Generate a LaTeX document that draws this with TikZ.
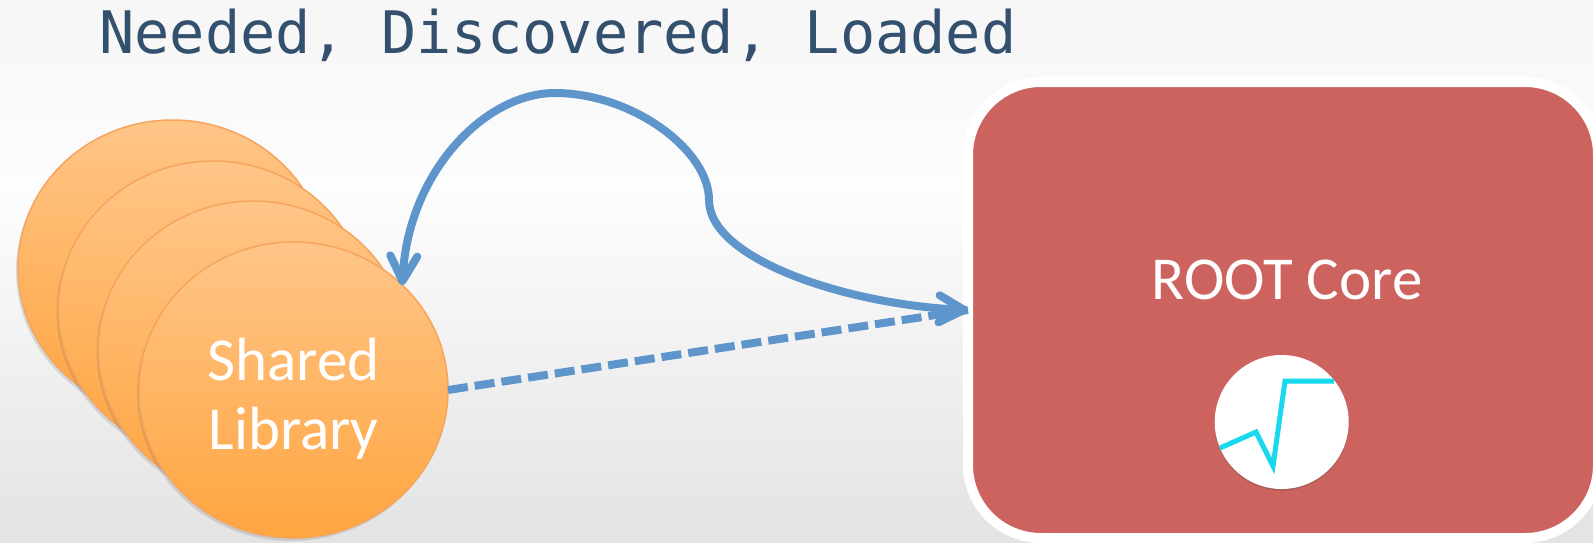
\documentclass[tikz,border=0pt]{standalone}
\usepackage{fontspec}
\setmainfont{Carlito}
\setmonofont{DejaVu Sans Mono}
\usetikzlibrary{arrows.meta,shapes.geometric,shadows}
\definecolor{bgedge}{HTML}{E3E3E3}
\definecolor{bgtop}{HTML}{F6F6F6}
\definecolor{bgmid}{HTML}{FDFDFD}
\definecolor{flowblue}{HTML}{5E96CC}
\definecolor{titleblue}{HTML}{34506F}
\definecolor{libtop}{HTML}{FFC588}
\definecolor{libbot}{HTML}{FFA540}
\definecolor{libline}{HTML}{F5A55E}
\definecolor{corered}{HTML}{CC635E}
\definecolor{chartcyan}{HTML}{18D8EE}
\tikzset{
  libcircle/.style={ellipse,draw=libline,line width=1.5pt,top color=libtop,bottom color=libbot,
    minimum width=309pt,minimum height=296pt,inner sep=0pt,outer sep=0pt,
    drop shadow={shadow xshift=-2pt,shadow yshift=-3pt,opacity=.2,fill=black!60}},
  labeltext/.style={text=white,inner sep=0pt,align=center,font=\fontsize{61}{69}\selectfont},
  corebox/.style={rectangle,rounded corners=73pt,draw=white,line width=10pt,fill=corered,
    minimum width=630pt,minimum height=456pt,inner sep=0pt,outer sep=0pt},
  flow/.style={draw=flowblue,line width=8pt},
  softshadow/.style={preaction={draw=black,opacity=.1,transform canvas={yshift=-3pt}}},
  flowtip/.style={-{Straight Barb[length=25pt,width=27pt,line width=8pt,round]}},
  dial/.style={circle,fill=white,minimum size=134pt,inner sep=0pt,
    drop shadow={shadow xshift=0pt,shadow yshift=-1.5pt,opacity=.3,fill=black!70}}
}
\begin{document}
\begin{tikzpicture}[x=1pt,y=-1pt]
\useasboundingbox (0,0) rectangle (1593,542);
\path[top color=bgtop,bottom color=bgmid] (0,0) rectangle (1593,190);
\path[top color=bgmid,bottom color=bgedge] (0,190) rectangle (1593,542);
\node[anchor=base west,inner sep=0pt,text=titleblue,font=\ttfamily\fontsize{58.6}{60}\selectfont] (title) at (99,53.5) {Needed, Discovered, Loaded};
\node[libcircle] (lib4) at (172.5,268) {};
\node[libcircle] (lib3) at (213,309) {};
\node[libcircle] (lib2) at (253,349) {};
\node[libcircle] (lib) at (293.5,390) {};
\node[labeltext] (liblabel) at (293.5,398.5) {Shared\\Library};
\node[corebox] (core) at (1283,310) {};
\node[labeltext] (corelabel) at (1287,280) {ROOT Core};
\node[dial] (dial) at (1281.7,422) {};
\coordinate (c1) at (1220,448);
\coordinate (c2) at (1256,432);
\coordinate (c3) at (1273,466);
\coordinate (c4) at (1285,381);
\coordinate (c5) at (1334,381);
\draw[chartcyan,line width=5pt,miter limit=12] (c1) -- (c2) -- (c3) -- (c4) -- (c5);
\coordinate (peak) at (555,93);
\coordinate (bend) at (709,200);
\draw[flow,softshadow,flowtip] (bend) .. controls (709,150) and (632,93) .. (peak) .. controls (485,93) and (408,172) .. (lib.44);
\draw[flow,softshadow,flowtip] (bend) .. controls (709,260) and (850,305) .. (core.west);
\draw[flow,dash pattern=on 20pt off 7pt] (lib.east) -- (core.west);
\end{tikzpicture}
\end{document}
